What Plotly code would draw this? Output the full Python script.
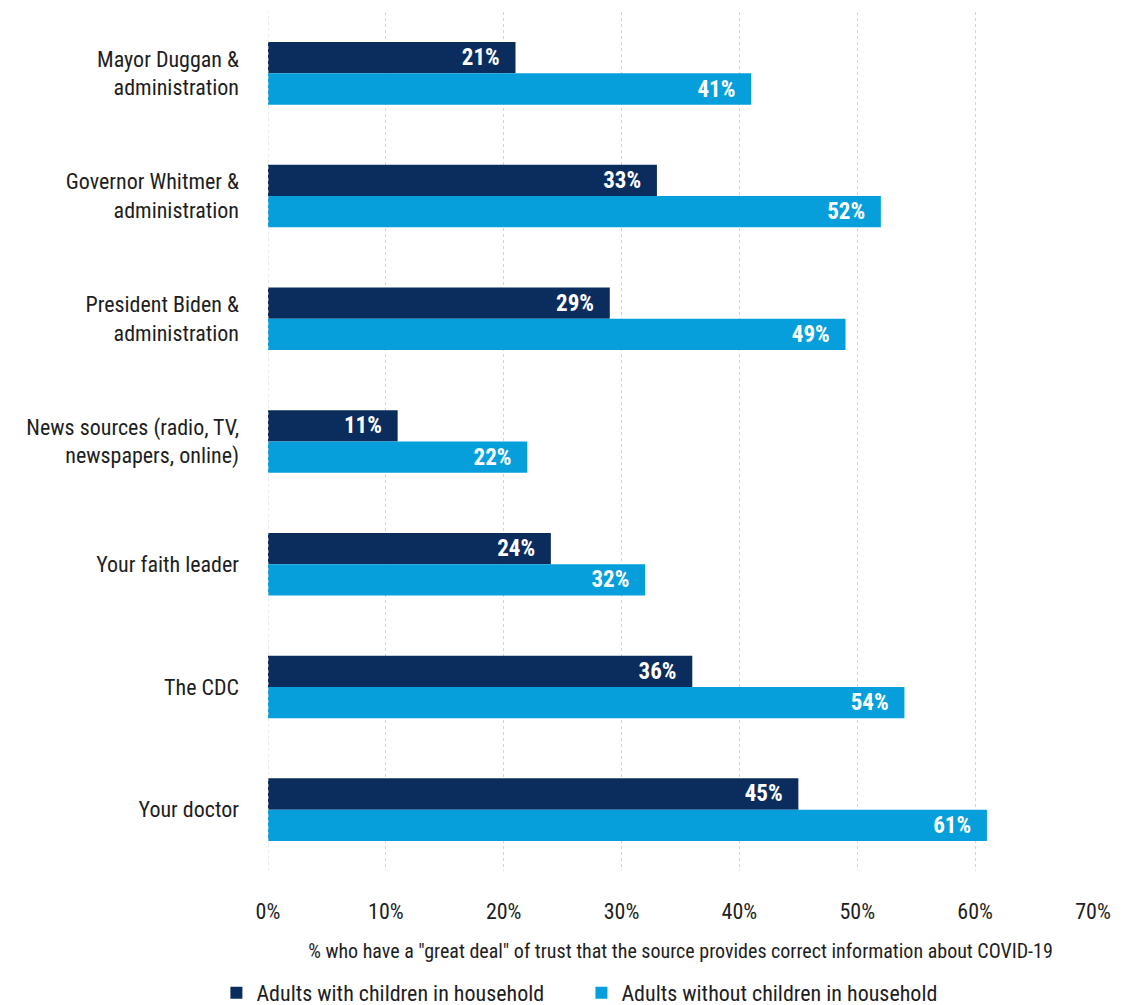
import plotly.graph_objects as go

# Trust in COVID-19 information sources, by household type
sources = [
    "Mayor Duggan &<br>administration",
    "Governor Whitmer &<br>administration",
    "President Biden &<br>administration",
    "News sources (radio, TV,<br>newspapers, online)",
    "Your faith leader",
    "The CDC",
    "Your doctor",
]
with_children = [21, 33, 29, 11, 24, 36, 45]
without_children = [41, 52, 49, 22, 32, 54, 61]
series_names = ["Adults with children in household", "Adults without children in household"]
tick_values = [0, 10, 20, 30, 40, 50, 60, 70]
tick_labels = ["0%", "10%", "20%", "30%", "40%", "50%", "60%", "70%"]

FONT = "Roboto"
DARK = "#0b2d5e"
LIGHT = "#079fdb"
PAD = "\u00a0\u2009"  # trailing space keeps the value clear of the bar end

fig = go.Figure()
for name, vals, color in [
    (series_names[0], with_children, DARK),
    (series_names[1], without_children, LIGHT),
]:
    fig.add_trace(go.Bar(
        y=sources, x=vals, orientation="h", name=name,
        marker=dict(color=color, line=dict(width=0)),
        text=[f"{v}%{PAD}" for v in vals], textposition="inside",
        insidetextanchor="end", constraintext="none",
        textfont=dict(family=FONT, size=23, color="white", weight="bold"),
        cliponaxis=False,
    ))

fig.update_layout(
    width=1140, height=1005,
    margin=dict(l=268, r=47, t=12, b=134, autoexpand=False),
    barmode="group", bargap=0.49, bargroupgap=0,
    plot_bgcolor="white", paper_bgcolor="white",
    font=dict(family=FONT, color="#1e1e1e"),
    showlegend=True,
    legend=dict(orientation="h", x=0.51, xref="container", xanchor="center",
                y=0.012, yref="container", yanchor="middle",
                font=dict(size=22, color="#1e1e1e"),
                itemwidth=30, traceorder="normal", itemsizing="constant",
                entrywidth=320, entrywidthmode="pixels"),
)
fig.update_xaxes(
    range=[0, 70], tickvals=tick_values, ticktext=tick_labels,
    showgrid=True, gridcolor="#d4d4d4", griddash="dot", gridwidth=1,
    zeroline=False, showline=False,
    tickfont=dict(size=22, color="#1e1e1e"), ticklabelstandoff=25,
    title=dict(text='% who have a "great deal" of trust that the source provides correct information about COVID-19',
               font=dict(size=20, color="#1e1e1e"), standoff=20),
)
fig.update_yaxes(
    autorange="reversed", showgrid=False, showline=False, zeroline=False,
    tickfont=dict(size=22, color="#1e1e1e"), ticklabelstandoff=28,
)
fig.add_shape(type="line", xref="x", yref="paper", x0=0, x1=0, y0=0, y1=1,
              line=dict(color="#d4d4d4", width=1, dash="dot"))

# Narrow the glyph width of every text element
condense = """
document.querySelectorAll('svg text').forEach(function (t) {
  t.style.fontStretch = '75%';
});
"""

fig.write_html("out.html", post_script=condense)
